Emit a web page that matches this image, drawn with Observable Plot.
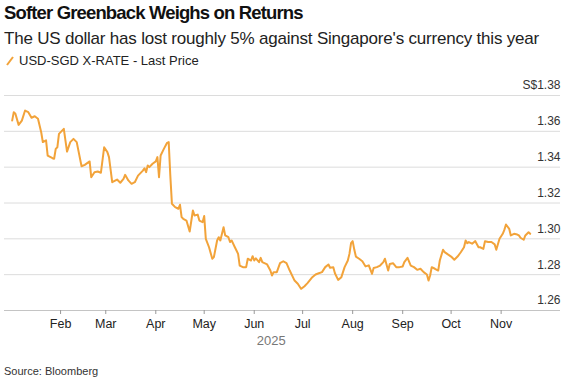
<!DOCTYPE html>
<html><head><meta charset="utf-8">
<script src="https://cdn.jsdelivr.net/npm/d3@7"></script>
<script src="https://cdn.jsdelivr.net/npm/@observablehq/plot@0.6"></script>
<style>
html,body{margin:0;padding:0;background:#fff;}
body{width:568px;height:380px;position:relative;overflow:hidden;font-family:"Liberation Sans",Arial,Helvetica,sans-serif;}
.abs{position:absolute;white-space:nowrap;}
#title{left:4px;top:3px;font-size:18.5px;line-height:20px;font-weight:bold;color:#111;letter-spacing:-0.85px;}
#subtitle{left:4px;top:29px;font-size:17px;line-height:20px;color:#222;letter-spacing:-0.2px;}
#legend{left:6px;top:53px;font-size:13px;line-height:16px;color:#222;display:flex;align-items:center;}
#legend svg{margin-right:5px;}
#chart{left:0;top:70px;}
#source{left:4px;top:364px;font-size:11px;line-height:14px;color:#333;}
</style></head>
<body>
<div id="title" class="abs"></div>
<div id="subtitle" class="abs"></div>
<div id="legend" class="abs"></div>
<div id="chart" class="abs"></div>
<div id="source" class="abs"></div>
<script>
const titleText = "Softer Greenback Weighs on Returns";
const subtitleText = "The US dollar has lost roughly 5% against Singapore's currency this year";
const seriesName = "USD-SGD X-RATE - Last Price";
const sourceText = "Source: Bloomberg";
const year = 2025;
const lineColor = "#f2a33a";

const dates = [
"01-02","01-03","01-04","01-06","01-08","01-10","01-12","01-14","01-16","01-18",
"01-20","01-21","01-23","01-24","01-27","01-28","01-29","01-30","01-31","02-03",
"02-05","02-07","02-09","02-11","02-14","02-16","02-19","02-20","02-22","02-24",
"02-26","02-28","03-02","03-03","03-05","03-08","03-10","03-12","03-13","03-15",
"03-17","03-19","03-21","03-24","03-25","03-26","03-27","03-28","03-30","04-01",
"04-02","04-03","04-04","04-06","04-08","04-09","04-10","04-11","04-13","04-15",
"04-16","04-17","04-18","04-20","04-22","04-24","04-25","04-27","04-28","04-30",
"05-01","05-02","05-04","05-06","05-07","05-09","05-10","05-11","05-13","05-14",
"05-16","05-17","05-18","05-20","05-21","05-22","05-23","05-25","05-27","05-28",
"05-30","05-31","06-01","06-02","06-04","06-05","06-06","06-09","06-11","06-12",
"06-13","06-15","06-17","06-19","06-21","06-23","06-26","06-28","06-30","07-02",
"07-04","07-07","07-09","07-11","07-13","07-15","07-17","07-18","07-20","07-21",
"07-23","07-25","07-27","07-29","07-30","07-31","08-01","08-02","08-03","08-05",
"08-07","08-09","08-11","08-13","08-14","08-16","08-18","08-20","08-21","08-23",
"08-24","08-26","08-28","08-30","09-01","09-02","09-04","09-06","09-08","09-10",
"09-12","09-14","09-16","09-17","09-18","09-19","09-21","09-23","09-24","09-26",
"09-27","09-29","10-01","10-03","10-05","10-07","10-09","10-10","10-11","10-12",
"10-14","10-16","10-18","10-19","10-21","10-22","10-24","10-26","10-28","10-29",
"10-31","11-02","11-03","11-04","11-06","11-07","11-09","11-11","11-12","11-13",
"11-15","11-16","11-18","11-19"
];
const prices = [
1.3660,1.3707,1.3698,1.3636,1.3660,1.3716,1.3707,1.3676,1.3684,1.3670,
1.3595,1.3540,1.3550,1.3465,1.3450,1.3447,1.3502,1.3511,1.3586,1.3614,
1.3487,1.3540,1.3558,1.3540,1.3405,1.3413,1.3432,1.3344,1.3372,1.3376,
1.3369,1.3511,1.3484,1.3456,1.3316,1.3331,1.3313,1.3335,1.3357,1.3326,
1.3307,1.3316,1.3353,1.3381,1.3394,1.3372,1.3409,1.3400,1.3419,1.3432,
1.3456,1.3344,1.3465,1.3502,1.3536,1.3540,1.3353,1.3196,1.3177,1.3168,
1.3190,1.3121,1.3112,1.3102,1.3041,1.3158,1.3130,1.3135,1.3102,1.3093,
1.3127,1.3000,1.2953,1.2889,1.2898,1.2991,1.3009,1.2991,1.3065,1.3019,
1.3009,1.2982,1.2991,1.2953,1.2935,1.2916,1.2851,1.2842,1.2842,1.2889,
1.2879,1.2903,1.2879,1.2891,1.2870,1.2894,1.2870,1.2857,1.2823,1.2795,
1.2814,1.2814,1.2864,1.2875,1.2864,1.2823,1.2767,1.2749,1.2721,1.2734,
1.2753,1.2786,1.2801,1.2808,1.2814,1.2842,1.2857,1.2839,1.2842,1.2808,
1.2771,1.2786,1.2842,1.2879,1.2916,1.2976,1.2987,1.2940,1.2901,1.2889,
1.2875,1.2846,1.2852,1.2805,1.2837,1.2842,1.2851,1.2870,1.2889,1.2823,
1.2860,1.2864,1.2842,1.2842,1.2846,1.2870,1.2894,1.2851,1.2842,1.2827,
1.2833,1.2814,1.2801,1.2767,1.2795,1.2842,1.2833,1.2823,1.2879,1.2939,
1.2926,1.2913,1.2901,1.2883,1.2901,1.2925,1.2953,1.2991,1.2976,1.2982,
1.2973,1.2987,1.2953,1.2953,1.2944,1.2987,1.2982,1.2982,1.2969,1.2939,
1.3000,1.3028,1.3050,1.3080,1.3056,1.3019,1.3028,1.3024,1.3019,1.3006,
1.2995,1.3019,1.3037,1.3028
];
const yTicks = [1.26, 1.28, 1.30, 1.32, 1.34, 1.36, 1.38];
const yTopPrefix = "S$";
const monthTicks = ["02-01","03-01","04-01","05-01","06-01","07-01","08-01","09-01","10-01","11-01"];

const data = dates.map((d, i) => ({date: new Date(`${year}-${d}`), price: prices[i]}));
const monthDates = monthTicks.map(d => new Date(`${year}-${d}`));
const xDomain = [new Date("2024-12-28T06:00Z"), new Date("2025-12-07T19:00Z")];
const midDate = new Date((data[0].date.getTime() + data[data.length - 1].date.getTime()) / 2);
const yMax = d3.max(yTicks);
const fmtY = d => (d === yMax ? yTopPrefix : "") + d.toFixed(2);

document.getElementById("title").textContent = titleText;
document.getElementById("subtitle").textContent = subtitleText;
document.getElementById("source").textContent = sourceText;
const leg = document.getElementById("legend");
leg.innerHTML = `<svg width="8" height="10"><line x1="1" y1="9" x2="7" y2="1" stroke="${lineColor}" stroke-width="2"/></svg><span></span>`;
leg.querySelector("span").textContent = seriesName;

const chart = Plot.plot({
  width: 568,
  height: 280,
  marginLeft: 4,
  marginRight: 8,
  marginTop: 25,
  marginBottom: 40,
  x: {type: "utc", domain: xDomain},
  y: {domain: [1.26, 1.38], axis: null},
  style: {fontFamily: '"Liberation Sans", Arial, sans-serif', fontSize: "12px", color: "#333", background: "transparent", overflow: "visible"},
  marks: [
    Plot.ruleY(yTicks, {stroke: "#dcdcdc", strokeWidth: 1}),
    Plot.ruleY([1.26], {stroke: "#c4c4c4", strokeWidth: 1}),
    Plot.text(yTicks, {x: xDomain[1], y: d => d, text: fmtY, textAnchor: "end", dy: -10, fill: "#333", fontSize: 12}),
    Plot.axisX(monthDates, {tickFormat: d3.utcFormat("%b"), tickSize: 4, tickPadding: 5, stroke: "#999", fill: "#222", fontSize: 12.5, label: null}),
    Plot.line(data, {x: "date", y: "price", stroke: lineColor, strokeWidth: 2, strokeLinejoin: "round"}),
    Plot.text([midDate], {x: d => d, frameAnchor: "bottom", dy: 30, lineAnchor: "middle", text: () => String(year), fill: "#777", fontSize: 13})
  ]
});
document.getElementById("chart").appendChild(chart);
</script>
</body></html>
